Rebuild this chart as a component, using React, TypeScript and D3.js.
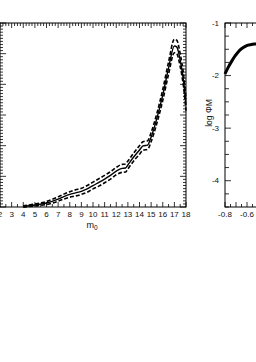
import React from 'react';
import * as d3 from 'd3';

// left panel: counts vs apparent magnitude
const mags = [4, 5, 6, 7, 7.5, 8, 8.5, 9, 9.5, 10, 10.5, 11, 11.5, 12, 12.5, 12.8, 13, 13.5, 14, 14.3, 14.7, 15, 15.5, 16, 16.5, 17, 17.2, 17.5, 17.8, 18];
const counts = [1.6, 6.5, 13, 26, 34, 41, 46, 51, 59, 70, 80, 91, 103, 117, 126, 127, 137, 163, 186, 199, 202, 228, 290, 365, 453, 525, 522, 479, 408, 333];
const countErr = [2, 3, 5, 7, 8, 9, 10, 10, 11, 11, 12, 12, 12, 12, 13, 13, 13, 13, 14, 14, 14, 15, 16, 18, 20, 22, 22, 21, 20, 19];
const magTicks = [2, 3, 4, 5, 6, 7, 8, 9, 10, 11, 12, 13, 14, 15, 16, 17, 18];

// right panel: log phi vs M
const absMag = [-0.8, -0.77, -0.74, -0.71, -0.68, -0.65, -0.62, -0.59, -0.56, -0.53, -0.5];
const logPhi = [-1.97, -1.84, -1.73, -1.63, -1.55, -1.49, -1.45, -1.42, -1.41, -1.4, -1.4];
const phiTicks = [-1, -2, -3, -4];
const absMagTicks = [-0.8, -0.6];

const FONT = '"Liberation Sans", Arial, sans-serif';

const App: React.FC = () => {
  const top = 23;
  const bottom = 207;

  const xL = d3.scaleLinear().domain([2, 18]).range([0, 186]);
  const yL = d3.scaleLinear().domain([0, 600]).range([bottom, top]);
  const xR = d3.scaleLinear().domain([-0.8, 0.2]).range([225, 335]);
  const yR = d3.scaleLinear().domain([-4.5, -1]).range([bottom, top]);

  const line = d3.line<number>()
    .x((_, i) => xL(mags[i]))
    .curve(d3.curveMonotoneX);
  const mid = line.y((d) => yL(d))(counts) as string;
  const upper = line.y((d, i) => yL(d + countErr[i]))(counts) as string;
  const lower = line.y((d, i) => yL(d - countErr[i]))(counts) as string;

  const phiLine = d3.line<number>()
    .x((_, i) => xR(absMag[i]))
    .y((d) => yR(d))
    .curve(d3.curveMonotoneX)(logPhi) as string;

  const ticks: JSX.Element[] = [];
  let k = 0;
  const tk = (x1: number, y1: number, x2: number, y2: number) =>
    ticks.push(<line key={k++} x1={x1} y1={y1} x2={x2} y2={y2} stroke="#000" strokeWidth={0.8} />);

  // left panel ticks
  for (let v = 0; v <= 600; v += 10) {
    const len = v % 100 === 0 ? 6 : 3;
    tk(xL(2), yL(v), xL(2) + len, yL(v));
    tk(xL(18), yL(v), xL(18) - len, yL(v));
  }
  d3.range(2, 18.01, 0.5).forEach((m) => {
    const len = Number.isInteger(m) ? 5 : 3;
    tk(xL(m), bottom, xL(m), bottom - len);
  });
  d3.range(2, 18.01, 0.25).forEach((m) => {
    const len = Number.isInteger(m) ? 5 : 3;
    tk(xL(m), top, xL(m), top + len);
  });

  // right panel ticks
  d3.range(-4.5, -0.99, 0.25).forEach((v) => {
    const len = Number.isInteger(v) ? 6 : 4;
    tk(xR(-0.8), yR(v), xR(-0.8) + len, yR(v));
  });
  d3.range(-0.8, 0.2, 0.05).forEach((v, i) => {
    const len = i % 2 === 0 ? 5 : 3;
    tk(xR(v), bottom, xR(v), bottom - len);
    tk(xR(v), top, xR(v), top + len);
  });

  return (
    <svg width={256} height={362} style={{ position: 'absolute', left: 0, top: 0, background: '#fff' }} fontFamily={FONT}>
      <rect x={0} y={0} width={256} height={362} fill="#fff" />
      {/* left frame */}
      <rect x={xL(2)} y={top} width={xL(18) - xL(2)} height={bottom - top} fill="none" stroke="#000" strokeWidth={1} />
      {/* right frame */}
      <rect x={xR(-0.8)} y={top} width={xR(0.2) - xR(-0.8)} height={bottom - top} fill="none" stroke="#000" strokeWidth={1} />
      {ticks}

      <path d={upper} fill="none" stroke="#000" strokeWidth={1.6} strokeDasharray="4,2" />
      <path d={lower} fill="none" stroke="#000" strokeWidth={1.6} strokeDasharray="4,2" />
      <path d={mid} fill="none" stroke="#000" strokeWidth={1.4} />

      <path d={phiLine} fill="none" stroke="#000" strokeWidth={3} />

      {magTicks.map((m) => (
        <text key={m} x={xL(m)} y={217} fontSize={8} textAnchor="middle" fill="#111">{m}</text>
      ))}
      <text x={92} y={228} fontSize={9} textAnchor="middle" fill="#111">
        m<tspan fontSize={6.5} dy={2}>0</tspan>
      </text>

      {phiTicks.map((v) => (
        <text key={v} x={219} y={yR(v) + 2.5} fontSize={8} textAnchor="end" fill="#111">{v}</text>
      ))}
      {absMagTicks.map((v) => (
        <text key={v} x={xR(v)} y={217} fontSize={8} textAnchor="middle" fill="#111">{v.toFixed(1)}</text>
      ))}
      <text transform={`translate(212,113) rotate(-90)`} fontSize={8.5} textAnchor="middle" fill="#111">log ΦM</text>
    </svg>
  );
};

export default App;
